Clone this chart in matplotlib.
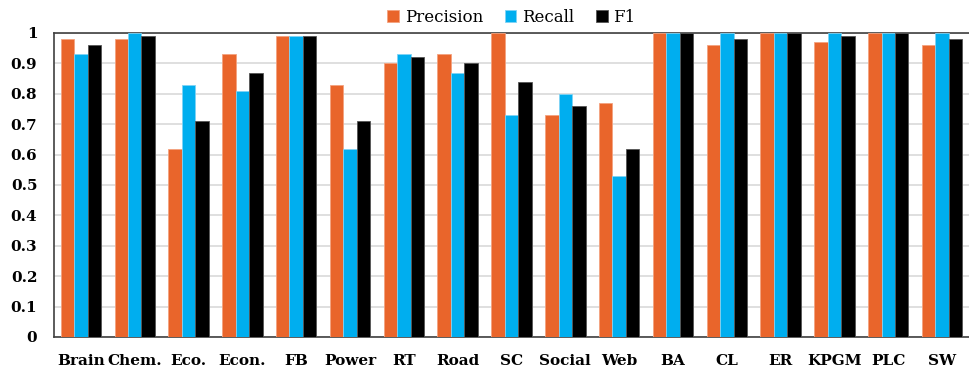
import matplotlib
matplotlib.use("Agg")
import matplotlib.pyplot as plt
import numpy as np

categories = ["Brain", "Chem.", "Eco.", "Econ.", "FB", "Power", "RT", "Road", "SC",
              "Social", "Web", "BA", "CL", "ER", "KPGM", "PLC", "SW"]
precision = [0.98, 0.98, 0.62, 0.93, 0.99, 0.83, 0.90, 0.93, 1.00, 0.73, 0.77, 1.00, 0.96, 1.00, 0.97, 1.00, 0.96]
recall    = [0.93, 1.00, 0.83, 0.81, 0.99, 0.62, 0.93, 0.87, 0.73, 0.80, 0.53, 1.00, 1.00, 1.00, 1.00, 1.00, 1.00]
f1        = [0.96, 0.99, 0.71, 0.87, 0.99, 0.71, 0.92, 0.90, 0.84, 0.76, 0.62, 1.00, 0.98, 1.00, 0.99, 1.00, 0.98]
yticks = [0, 0.1, 0.2, 0.3, 0.4, 0.5, 0.6, 0.7, 0.8, 0.9, 1]
yticklabels = ["0", "0.1", "0.2", "0.3", "0.4", "0.5", "0.6", "0.7", "0.8", "0.9", "1"]

plt.rcParams['font.family'] = ['DejaVu Serif']
fig = plt.figure(figsize=(9.69, 3.70), dpi=100)
ax = fig.add_axes([54/969, 33/370, 1 - 54/969, 304/370])

x = np.arange(len(categories))
w = 0.25
ax.bar(x - w, precision, w, color="#E9652B", edgecolor="#F4A27F", linewidth=0.6, label="Precision", zorder=3)
ax.bar(x, recall, w, color="#00AEEF", edgecolor="#7FD3F5", linewidth=0.6, label="Recall", zorder=3)
ax.bar(x + w, f1, w, color="#000000", edgecolor="#555555", linewidth=0.6, label="F1", zorder=3)

ax.set_xlim(-0.5, len(categories) - 0.5)
ax.set_ylim(0, 1)
ax.set_yticks(yticks)
ax.set_yticklabels(yticklabels, fontsize=11, fontweight="bold")
ax.set_xticks(x)
ax.set_xticklabels(categories, fontsize=11, fontweight="bold")
ax.tick_params(axis="both", length=0)
ax.tick_params(axis="x", pad=12)
ax.tick_params(axis="y", pad=12)
ax.yaxis.grid(True, color="#D9D9D9", linewidth=1.2, zorder=0)
ax.set_axisbelow(True)
for s in ["left", "bottom", "top"]:
    ax.spines[s].set_color("#404040")
    ax.spines[s].set_linewidth(1.2)
ax.spines["right"].set_visible(False)

ax.legend(loc="lower center", bbox_to_anchor=(0.5, 1.0), ncol=3, frameon=False,
          fontsize=12, handlelength=0.7, handleheight=0.7, handletextpad=0.35,
          columnspacing=1.3, borderaxespad=0.05)

fig.savefig("out.png", dpi=100)
